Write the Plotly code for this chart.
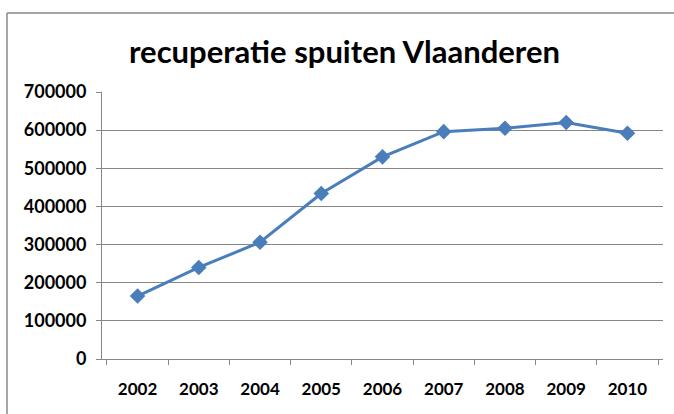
import plotly.graph_objects as go

years = ["2002", "2003", "2004", "2005", "2006", "2007", "2008", "2009", "2010"]
values = [165000, 240000, 306000, 434000, 530000, 596000, 605000, 620000, 592000]
y_ticks = [0, 100000, 200000, 300000, 400000, 500000, 600000, 700000]

fig = go.Figure()
fig.add_trace(go.Scatter(
    x=years, y=values, mode="lines+markers",
    line=dict(color="#4A7EBB", width=3),
    marker=dict(symbol="diamond", size=12, color="#4A7EBB"),
    showlegend=False,
))

L, R, T, B = 102, 11, 92, 55
W, H = 674, 414
pw, ph = W - L - R, H - T - B

bx0 = (7 - L) / pw
bx1 = (W - L) / pw
by0 = -(B + 5) / ph
by1 = (H - B - 13) / ph
border = dict(color="#898989", width=1.5)

fig.update_layout(
    width=W, height=H,
    margin=dict(l=L, r=R, t=T, b=B),
    paper_bgcolor="white", plot_bgcolor="white",
    font=dict(family="Lato, Noto Sans, sans-serif", color="#000000"),
    title=dict(text="<b>recuperatie spuiten Vlaanderen</b>", x=344.5 / W, xanchor="center",
               y=1 - 52 / H, yanchor="middle", font=dict(size=31, color="#000000")),
    xaxis=dict(type="category", tickson="boundaries", ticks="outside", ticklen=5,
               tickcolor="#868686", showline=True, linecolor="#868686", linewidth=1,
               showgrid=False, tickfont=dict(size=17, color="#000000", weight="bold"),
               ticklabelstandoff=15),
    yaxis=dict(range=[0, 700000], tickvals=y_ticks, ticktext=[str(v) for v in y_ticks],
               showgrid=True, gridcolor="#868686", gridwidth=1,
               showline=True, linecolor="#868686", linewidth=1,
               ticks="outside", ticklen=5, tickcolor="#868686",
               zeroline=False, tickfont=dict(size=18, color="#000000", weight="bold"),
               ticklabelstandoff=6),
    shapes=[
        dict(type="line", xref="paper", yref="paper", x0=bx0, x1=bx1, y0=by1, y1=by1,
             line=border, layer="below"),
        dict(type="line", xref="paper", yref="paper", x0=bx0, x1=bx0, y0=by0, y1=by1,
             line=border, layer="below"),
    ],
)

fig.write_html("out.html", config={"displayModeBar": False},
               post_script="document.body.style.margin='0';document.body.style.overflow='hidden';")
